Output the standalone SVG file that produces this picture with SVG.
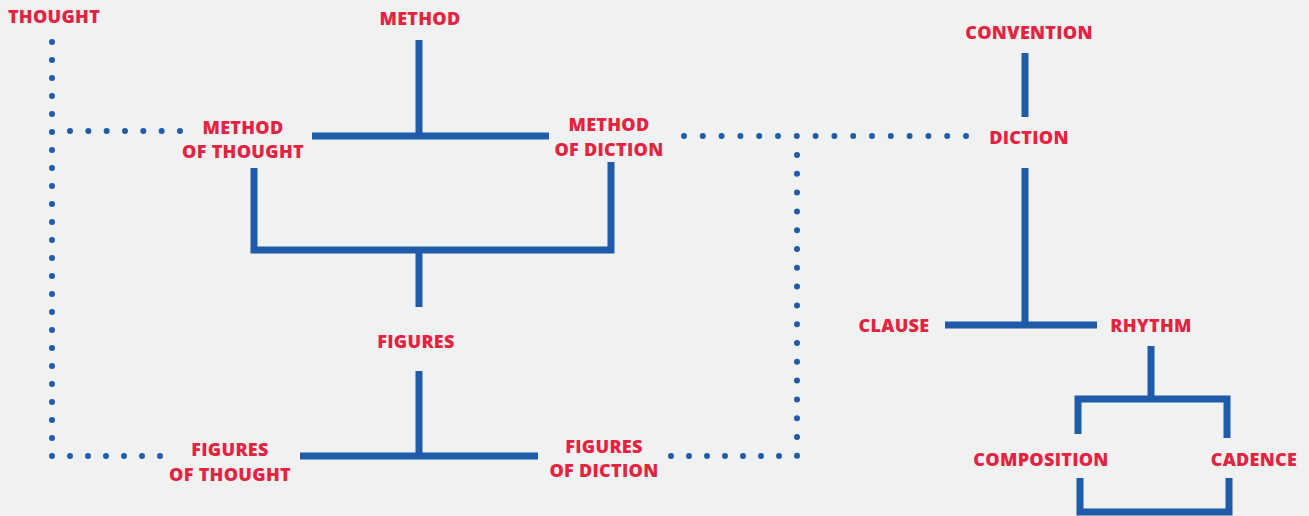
<svg xmlns="http://www.w3.org/2000/svg" width="1309" height="516" viewBox="0 0 1309 516">
<style>
.t{font-family:"Open Sans","Noto Sans",sans-serif;font-weight:800;font-size:18px;letter-spacing:0.3px;fill:#e5223f;text-anchor:middle}
.s{stroke:#1f5ba8;stroke-width:7;fill:none;stroke-linecap:butt}
.d{stroke:#1f5ba8;stroke-width:6;fill:none;stroke-linecap:round}
</style>
<rect width="1309" height="516" fill="#f0f1f1"/>
<g id="connectors">
<path class="d" stroke-dasharray="0 18" d="M52 42V457"/>
<path class="d" stroke-dasharray="0 18.33" d="M70 131H181"/>
<path class="d" stroke-dasharray="0 18" d="M70 456H161"/>
<path class="d" stroke-dasharray="0 18.8" d="M684 136H967"/>
<path class="d" stroke-dasharray="0 18.8" d="M797 155V457"/>
<path class="d" stroke-dasharray="0 18" d="M671 456H780"/>
<path class="s" d="M419 40V136M312 136H549"/>
<path class="s" d="M254 168V250H611V162M419 250V307"/>
<path class="s" d="M419 371V456M300 456H538"/>
<path class="s" d="M1025 53V117M1025 168V325M945 325H1097"/>
<path class="s" d="M1151 346V399M1078 434V399H1227V438"/>
<path class="s" d="M1080 478V512H1229V478"/>
</g>
<g id="thought"><text class="t" x="54" y="23">THOUGHT</text></g>
<g id="method"><text class="t" x="420" y="25">METHOD</text></g>
<g id="method-of-thought"><text class="t" x="243" y="134">METHOD</text><text class="t" x="243" y="158">OF THOUGHT</text></g>
<g id="method-of-diction"><text class="t" x="609" y="131">METHOD</text><text class="t" x="609" y="156">OF DICTION</text></g>
<g id="figures"><text class="t" x="416" y="348">FIGURES</text></g>
<g id="figures-of-thought"><text class="t" x="230" y="456">FIGURES</text><text class="t" x="230" y="481">OF THOUGHT</text></g>
<g id="figures-of-diction"><text class="t" x="604" y="453">FIGURES</text><text class="t" x="604" y="477">OF DICTION</text></g>
<g id="convention"><text class="t" x="1029" y="39">CONVENTION</text></g>
<g id="diction"><text class="t" x="1029" y="144">DICTION</text></g>
<g id="clause"><text class="t" x="894" y="332">CLAUSE</text></g>
<g id="rhythm"><text class="t" x="1151" y="332">RHYTHM</text></g>
<g id="composition"><text class="t" x="1041" y="466">COMPOSITION</text></g>
<g id="cadence"><text class="t" x="1254" y="466">CADENCE</text></g>
</svg>
